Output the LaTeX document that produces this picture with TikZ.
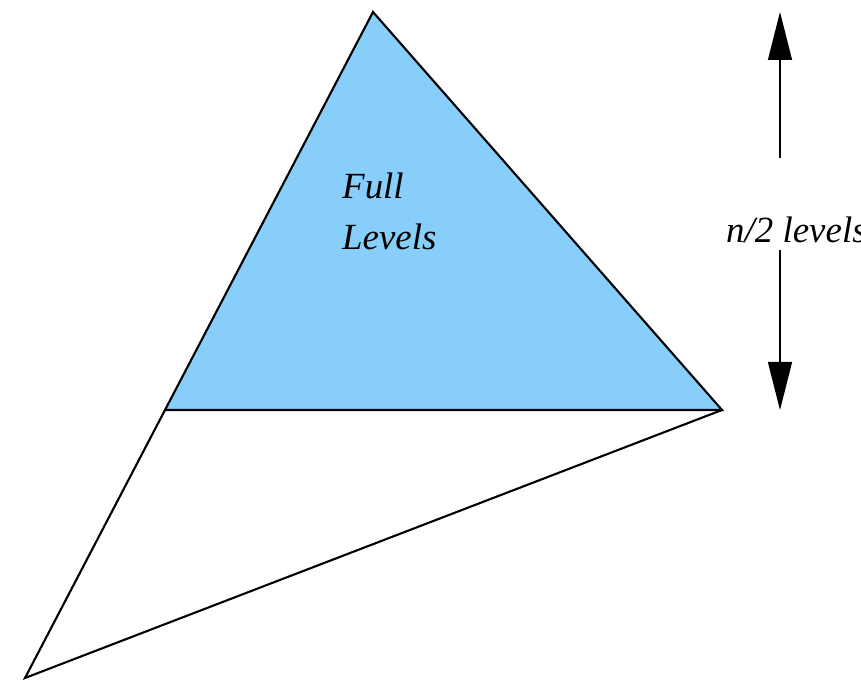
\documentclass[tikz,border=0pt]{standalone}
\usepackage{fontspec}
\setmainfont{Liberation Serif}
\usetikzlibrary{arrows.meta, positioning, calc}
\usepackage{xcolor}
\definecolor{fullblue}{HTML}{87CEFA}

\begin{document}
\begin{tikzpicture}[
    every node/.style={font=\itshape\fontsize{21}{29}\selectfont},
    edge/.style={draw=black, line width=1.2pt, line join=miter},
    arr/.style={-{Triangle[length=0.96cm, width=0.48cm]}, line width=0.8pt}
]
    \useasboundingbox (0,0) rectangle (17.22,13.62);
    \coordinate (apex) at (7.46,13.38);
    \coordinate (right) at (14.44,5.42);
    \coordinate (mid) at (3.30,5.42);
    \coordinate (bottom) at (0.50,0.06);
    \coordinate (gaptop) at (15.6,10.46);
    \coordinate (gapbot) at (15.6,8.62);
    \coordinate (uptip) at (15.6,13.38);
    \coordinate (downtip) at (15.6,5.42);
    % upper part
    \filldraw[edge, fill=fullblue] (apex) -- (right) -- (mid) -- cycle;
    % lower part
    \draw[edge] (mid) -- (bottom) -- (right);
    \node[anchor=west, align=left] (full) at (6.72,9.40) {Full\\Levels};
    \node[anchor=west] (lvl) at (14.40,9.02) {n/2 levels};
    \draw[arr] (gaptop) -- (uptip);
    \draw[arr] (gapbot) -- (downtip);
\end{tikzpicture}
\end{document}
